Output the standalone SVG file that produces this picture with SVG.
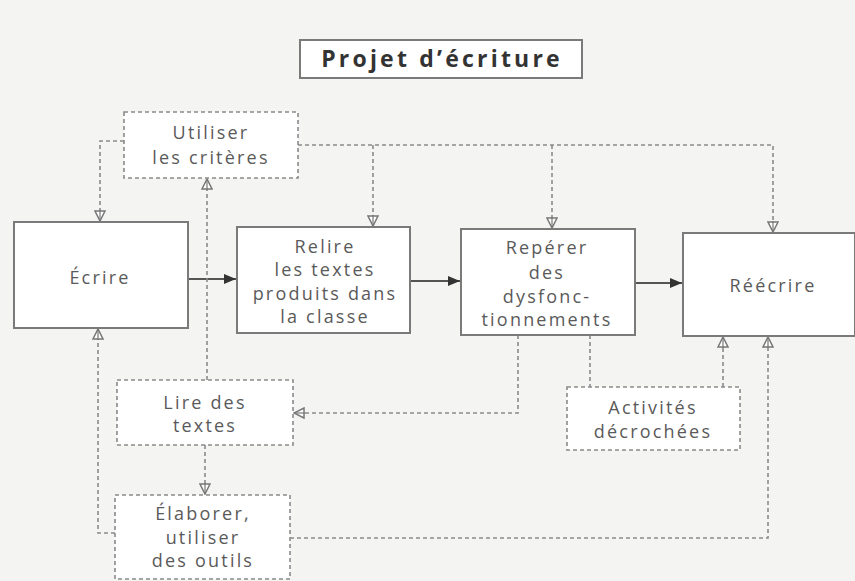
<svg xmlns="http://www.w3.org/2000/svg" width="855" height="581" viewBox="0 0 855 581">
<defs>
<style>
.bg{fill:#f4f4f2}
.box{fill:#ffffff;stroke:#7a7a7a;stroke-width:2}
.dbox{fill:#ffffff;stroke:#8a8a8a;stroke-width:1.6;stroke-dasharray:4 3}
.t{font-family:"Open Sans","DejaVu Sans",sans-serif;font-size:18px;fill:#5a5a5a;text-anchor:middle;letter-spacing:2.2px}
.title{font-family:"Open Sans","DejaVu Sans",sans-serif;font-size:23px;font-weight:bold;fill:#333;text-anchor:middle;letter-spacing:3.2px}
.solid{fill:none;stroke:#555;stroke-width:1.8}
.dash{fill:none;stroke:#8a8a8a;stroke-width:1.6;stroke-dasharray:4 3}
</style>
<marker id="filled" viewBox="0 0 12 10" refX="12" refY="5" markerWidth="12" markerHeight="10" markerUnits="userSpaceOnUse" orient="auto">
<path d="M0,0 L12,5 L0,10 Z" fill="#333"/>
</marker>
<marker id="hollow" viewBox="0 0 12 12" refX="11" refY="6" markerWidth="12" markerHeight="12" markerUnits="userSpaceOnUse" orient="auto">
<path d="M1,1 L11,6 L1,11 Z" fill="#fff" stroke="#777" stroke-width="1.5"/>
<path d="M0,6 L11,6" stroke="#777" stroke-width="1.2"/>
</marker>
</defs>
<rect class="bg" x="0" y="0" width="855" height="581"/>

<g id="connectors">
<path class="solid" d="M188,279 H236" marker-end="url(#filled)"/>
<path class="solid" d="M410,281 H460" marker-end="url(#filled)"/>
<path class="solid" d="M635,283 H682" marker-end="url(#filled)"/>
<path class="dash" d="M124,141 H100 V221" marker-end="url(#hollow)"/>
<path class="dash" d="M298,145 H773 V232" marker-end="url(#hollow)"/>
<path class="dash" d="M373,145 V226" marker-end="url(#hollow)"/>
<path class="dash" d="M552,145 V228" marker-end="url(#hollow)"/>
<path class="dash" d="M207,380 V179" marker-end="url(#hollow)"/>
<path class="dash" d="M205,445 V494" marker-end="url(#hollow)"/>
<path class="dash" d="M115,533 H98 V329" marker-end="url(#hollow)"/>
<path class="dash" d="M290,538 H768 V337" marker-end="url(#hollow)"/>
<path class="dash" d="M518,335 V413 H294" marker-end="url(#hollow)"/>
<path class="dash" d="M590,335 V387"/>
<path class="dash" d="M723,387 V337" marker-end="url(#hollow)"/>
</g>

<g id="title">
<rect class="box" x="300" y="40" width="282" height="38"/>
<text class="title" x="442" y="67">Projet d’écriture</text>
</g>

<g id="utiliser">
<rect class="dbox" x="124" y="112" width="174" height="66"/>
<text class="t" x="211" y="139">Utiliser</text>
<text class="t" x="211" y="164">les critères</text>
</g>

<g id="ecrire">
<rect class="box" x="14" y="222" width="174" height="106"/>
<text class="t" x="100" y="284">Écrire</text>
</g>

<g id="relire">
<rect class="box" x="237" y="227" width="173" height="106"/>
<text class="t" x="325" y="253">Relire</text>
<text class="t" x="325" y="276">les textes</text>
<text class="t" x="325" y="300">produits dans</text>
<text class="t" x="325" y="323">la classe</text>
</g>

<g id="reperer">
<rect class="box" x="461" y="229" width="174" height="106"/>
<text class="t" x="547" y="254">Repérer</text>
<text class="t" x="547" y="279">des</text>
<text class="t" x="547" y="303">dysfonc-</text>
<text class="t" x="547" y="326">tionnements</text>
</g>

<g id="reecrire">
<rect class="box" x="683" y="233" width="172" height="103"/>
<text class="t" x="773" y="292">Réécrire</text>
</g>

<g id="lire">
<rect class="dbox" x="117" y="380" width="176" height="65"/>
<text class="t" x="205" y="409">Lire des</text>
<text class="t" x="205" y="432">textes</text>
</g>

<g id="activites">
<rect class="dbox" x="567" y="387" width="173" height="63"/>
<text class="t" x="653" y="414">Activités</text>
<text class="t" x="653" y="438">décrochées</text>
</g>

<g id="elaborer">
<rect class="dbox" x="115" y="495" width="175" height="84"/>
<text class="t" x="203" y="520">Élaborer,</text>
<text class="t" x="203" y="544">utiliser</text>
<text class="t" x="203" y="567">des outils</text>
</g>
</svg>
